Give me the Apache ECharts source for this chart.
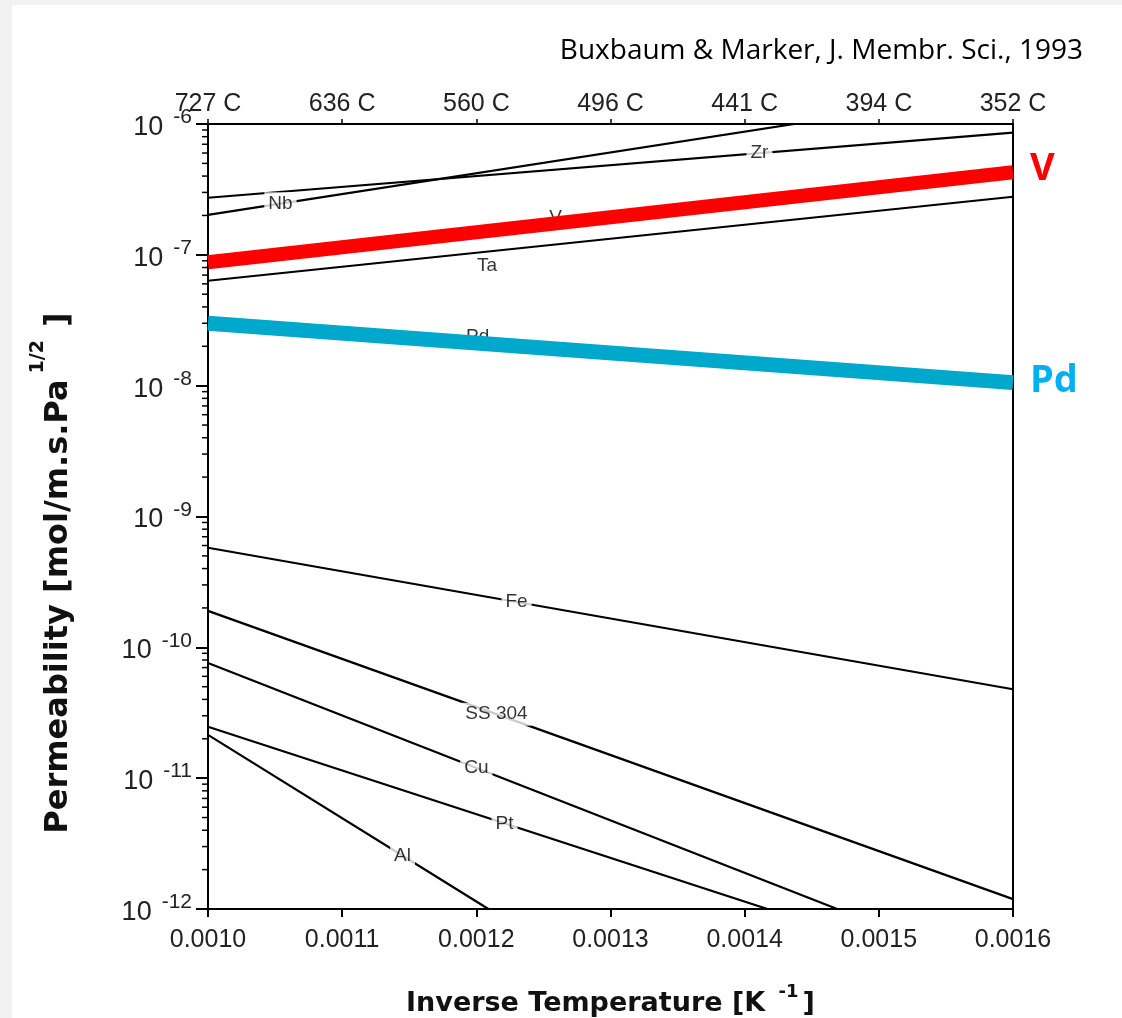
<!DOCTYPE html>
<html><head><meta charset="utf-8">
<script src="https://cdn.jsdelivr.net/npm/echarts@6/dist/echarts.min.js"></script>
<style>
html,body{margin:0;padding:0;background:#f2f2f2;width:1122px;height:1018px;overflow:hidden}
#c{position:absolute;left:12px;top:5px;width:1110px;height:1013px;background:#fff}
</style></head><body><div id="c"></div>
<script>
// ---- tick labels ----
const bottomTickLabels = ['0.0010','0.0011','0.0012','0.0013','0.0014','0.0015','0.0016'];
const topTickLabels = ['727 C','636 C','560 C','496 C','441 C','394 C','352 C'];
const yExponentLabels = ['-12','-11','-10','-9','-8','-7','-6'];
const minorTickMultipliers = [2,3,4,5,6,7,8,9];

// ---- permeability lines: [inverse T (1/K), permeability] ----
const zr    = [[0.0010, 2.73e-7],  [0.0016, 8.58e-7]];
const nb    = [[0.0010, 2.02e-7],  [0.001437, 1.0e-6]];
const vana  = [[0.0010, 8.77e-8],  [0.0016, 4.28e-7]];
const ta    = [[0.0010, 6.34e-8],  [0.0016, 2.78e-7]];
const pd    = [[0.0010, 3.00e-8],  [0.0016, 1.055e-8]];
const fe    = [[0.0010, 5.77e-10], [0.0016, 4.78e-11]];
const ss304 = [[0.0010, 1.90e-10], [0.0016, 1.19e-12]];
const cu    = [[0.0010, 7.59e-11], [0.001469, 1.0e-12]];
const pt    = [[0.0010, 2.47e-11], [0.001417, 1.0e-12]];
const al    = [[0.0010, 2.14e-11], [0.001209, 1.0e-12]];

// ---- in-line labels (name, x position along its line) ----
const curveLabelNames = ['Nb','Zr','Ta','Fe','SS 304','Cu','Pt','Al'];
const curveLabelX     = [0.001054, 0.001411, 0.001208, 0.00123, 0.001215, 0.0012, 0.001221, 0.001145];
const hiddenLabelNames = ['V','Pd'];
const hiddenLabelX     = [0.001259, 0.001201];

const curveByName = {Nb:nb, Zr:zr, Ta:ta, Fe:fe, 'SS 304':ss304, Cu:cu, Pt:pt, Al:al, V:vana, Pd:pd};
function onCurve(c, x){
  const [x0,y0]=c[0],[x1,y1]=c[1];
  const t=(x-x0)/(x1-x0);
  return Math.pow(10, Math.log10(y0)+t*(Math.log10(y1)-Math.log10(y0)));
}

const FONT='Liberation Sans';
const BOLDFONT='DejaVu Sans';
const chart = echarts.init(document.getElementById('c'), null, {renderer:'canvas'});

const blackLine = (name, d) => ({
  name, type:'line', data:d, showSymbol:false, symbol:'none', z:2,
  lineStyle:{color:'#000', width:2.2}, xAxisIndex:0, yAxisIndex:0, animation:false
});

const minorData = [];
for (let e=-12; e<-6; e++) for (const m of minorTickMultipliers) minorData.push([0.0010, m*Math.pow(10,e)]);

const clear = 'rgba(0,0,0,0)';

chart.setOption({
  animation:false,
  backgroundColor:'#ffffff',
  title:{text:'Buxbaum & Marker, J. Membr. Sci., 1993', right:39, top:32, padding:0,
    textStyle:{fontFamily:'Open Sans', fontSize:28, fontWeight:'normal', color:'#000'}},
  grid:{left:196, right:109, top:119, bottom:109, containLabel:false, outerBoundsMode:'none'},
  xAxis:[
    {type:'value', position:'bottom', min:0.0010, max:0.0016, interval:0.0001,
     axisLine:{show:true, onZero:false, lineStyle:{color:'#000', width:2}},
     axisTick:{show:true, length:8, lineStyle:{color:'#000', width:2}},
     splitLine:{show:false},
     axisLabel:{margin:19, fontFamily:FONT, fontSize:25, color:'#222',
       formatter:(v)=>bottomTickLabels[Math.round((v-0.0010)/0.0001)]},
     name:'{a|Inverse Temperature [K }{s|-1}{a|]}', nameLocation:'middle', nameGap:74,
     nameTextStyle:{rich:{
       a:{fontFamily:BOLDFONT, fontSize:27, fontWeight:'bold', color:'#111', verticalAlign:'bottom', lineHeight:34},
       s:{fontFamily:BOLDFONT, fontSize:18, fontWeight:'bold', color:'#111', verticalAlign:'top', lineHeight:14, padding:[0,4,0,4]}
     }}},
    {type:'value', position:'top', min:0.0010, max:0.0016, interval:0.0001,
     axisLine:{show:true, onZero:false, lineStyle:{color:'#000', width:2}},
     axisTick:{show:true, length:5, lineStyle:{color:'#000', width:1.5}},
     splitLine:{show:false},
     axisLabel:{margin:7, fontFamily:FONT, fontSize:25, color:'#222',
       formatter:(v)=>topTickLabels[Math.round((v-0.0010)/0.0001)]}}
  ],
  yAxis:[
    {type:'log', logBase:10, min:1e-12, max:1e-6, position:'left',
     axisLine:{show:true, onZero:false, lineStyle:{color:'#000', width:2}},
     axisTick:{show:true, length:12, lineStyle:{color:'#000', width:2}},
     splitLine:{show:false},
     axisLabel:{margin:16, formatter:(v)=>{
         const i=Math.round(Math.log10(v))+12;
         return '{b|10}{s|'+yExponentLabels[i]+'}';
       },
       rich:{
         b:{fontFamily:FONT, fontSize:27, color:'#222', verticalAlign:'bottom', lineHeight:34},
         s:{fontFamily:FONT, fontSize:21, color:'#222', verticalAlign:'top', lineHeight:12, padding:[0,0,0,10]}
       }}},
    {type:'log', logBase:10, min:1e-12, max:1e-6, position:'right',
     axisLine:{show:true, onZero:false, lineStyle:{color:'#000', width:2}},
     axisTick:{show:false}, axisLabel:{show:false}, splitLine:{show:false}}
  ],
  graphic:[
    {type:'text', x:40, y:568, rotation:Math.PI/2,
     style:{text:'{a|Permeability [mol/m.s.Pa}{s|1/2}{a| ]}', align:'center', verticalAlign:'middle',
       rich:{
         a:{fontFamily:BOLDFONT, fontSize:32, fontWeight:'bold', fill:'#111', verticalAlign:'bottom', lineHeight:46},
         s:{fontFamily:BOLDFONT, fontSize:19, fontWeight:'bold', fill:'#111', verticalAlign:'top', lineHeight:12, padding:[0,2,0,6]}
       }}}
  ],
  series:[
    blackLine('Zr', zr), blackLine('Nb', nb), blackLine('Ta', ta),
    blackLine('Fe', fe), blackLine('SS 304', ss304), blackLine('Cu', cu),
    blackLine('Pt', pt), blackLine('Al', al),
    {name:'hiddenLabels', type:'scatter', z:3, symbolSize:1, itemStyle:{color:clear}, silent:true,
     data: hiddenLabelNames.map((n,i)=>({name:n, value:[hiddenLabelX[i], onCurve(curveByName[n], hiddenLabelX[i])]})),
     label:{show:true, position:'inside', offset:[0,-6], formatter:'{b}', fontFamily:FONT, fontSize:19, color:'#000', textBorderWidth:0}},
    {name:'V', type:'line', data:vana, showSymbol:false, symbol:'none', z:4,
     lineStyle:{color:'#ff0000', width:14, cap:'butt'},
     endLabel:{show:true, formatter:'V', distance:17, offset:[0,-3], fontFamily:'Open Sans', fontWeight:'bold', fontSize:38, color:'#ff0000'}},
    {name:'Pd', type:'line', data:pd, showSymbol:false, symbol:'none', z:4,
     lineStyle:{color:'#00a8cc', width:15, cap:'butt'},
     endLabel:{show:true, formatter:'Pd', distance:17, offset:[0,-1], fontFamily:'Open Sans', fontWeight:'bold', fontSize:38, color:'#00b0f0'}},
    {name:'curveLabels', type:'scatter', z:5, symbolSize:1, itemStyle:{color:clear}, silent:true,
     data: curveLabelNames.map((n,i)=>({name:n, value:[curveLabelX[i], onCurve(curveByName[n], curveLabelX[i])],
        label: n==='Ta' ? {backgroundColor:clear, offset:[0,14]} : {}})),
     label:{show:true, position:'inside', formatter:'{b}', fontFamily:FONT, fontSize:19, color:'#000',
       textBorderWidth:0, backgroundColor:'#fff', padding:[2,4]}},
    {name:'minorTicks', type:'custom', coordinateSystem:'cartesian2d', xAxisIndex:0, yAxisIndex:0,
     clip:false, silent:true, z:6, data:minorData,
     renderItem:(params, api)=>{
       const p=api.coord([api.value(0), api.value(1)]);
       return {type:'line', shape:{x1:p[0]-6, y1:p[1], x2:p[0], y2:p[1]}, style:{stroke:'#000', lineWidth:1.5}};
     }}
  ]
});
</script></body></html>
